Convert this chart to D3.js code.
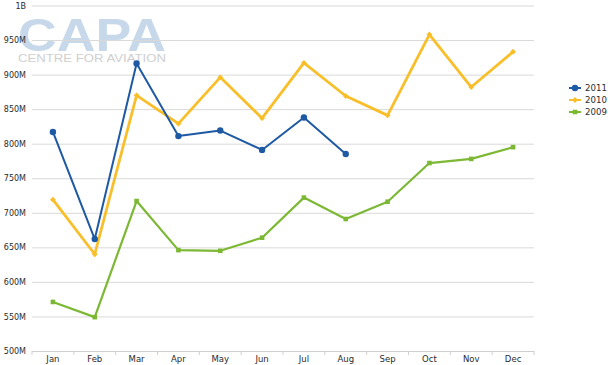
<!DOCTYPE html>
<html lang="en">
<head>
<meta charset="utf-8">
<title>Monthly revenue</title>
<script src="https://d3js.org/d3.v7.min.js"></script>
<style>
  body { margin: 0; background: #fff; }
  .axis text, .legend text { font-family: "DejaVu Sans", sans-serif; fill: #2b2b2b; }
</style>
</head>
<body>
<svg id="chart" width="610" height="365"></svg>
<script>
// data
var months = ["Jan","Feb","Mar","Apr","May","Jun","Jul","Aug","Sep","Oct","Nov","Dec"];
var values2011 = [817e6, 662e6, 916e6, 811e6, 819e6, 791e6, 838e6, 785e6];
var values2010 = [719e6, 640e6, 870e6, 829e6, 896e6, 837e6, 917e6, 869e6, 841e6, 958e6, 882e6, 933e6];
var values2009 = [571e6, 549e6, 717e6, 646e6, 645e6, 664e6, 722e6, 691e6, 716e6, 772e6, 778e6, 795e6];
var yTicks = [500e6, 550e6, 600e6, 650e6, 700e6, 750e6, 800e6, 850e6, 900e6, 950e6, 1e9];

var series = [
  {name: "2009", values: values2009, color: "#7cb834", width: 2.2, marker: "square"},
  {name: "2010", values: values2010, color: "#f8bf2b", width: 2.8, marker: "diamond"},
  {name: "2011", values: values2011, color: "#1e59a3", width: 2, marker: "circle"}
];

var svg = d3.select("#chart");

var x = d3.scaleBand().domain(months).range([32, 534]);
var y = d3.scaleLinear().domain([500e6, 1e9]).range([351, 5.5]);
var cx = function(i) { return x(months[i]) + x.bandwidth() / 2; };

// logo in background
var logo = svg.append("g");
logo.append("text")
  .attr("x", 18).attr("y", 51)
  .attr("textLength", 148).attr("lengthAdjust", "spacingAndGlyphs")
  .style("font-family", "'Liberation Sans', Arial, sans-serif")
  .style("font-weight", "bold").style("font-size", "47px")
  .style("fill", "#c6d8ea")
  .text("CAPA");
logo.append("text")
  .attr("x", 18).attr("y", 61.5)
  .attr("textLength", 148).attr("lengthAdjust", "spacingAndGlyphs")
  .style("font-family", "'Liberation Sans', Arial, sans-serif")
  .style("font-size", "11.5px")
  .style("fill", "#cfcfcf")
  .text("CENTRE FOR AVIATION");

// gridlines + y labels
var yAxis = svg.append("g")
  .attr("class", "axis")
  .attr("transform", "translate(32,0)")
  .call(d3.axisLeft(y).tickValues(yTicks).tickSize(-502).tickPadding(6)
    .tickFormat(function(d) { return d >= 1e9 ? "1B" : (d / 1e6) + "M"; }));
yAxis.select(".domain").remove();
yAxis.selectAll("line").attr("stroke", "#d9d9d9");
yAxis.selectAll("text").style("font-size", "8px");

// x axis
var xAxis = svg.append("g")
  .attr("class", "axis")
  .attr("transform", "translate(0,351)")
  .call(d3.axisBottom(x).tickSize(0).tickPadding(5));
xAxis.select(".domain").attr("stroke", "#cfcfcf");
xAxis.selectAll("text").style("font-size", "8.5px");
var bounds = months.map(function(m) { return x(m); }).concat([x.range()[1]]);
xAxis.selectAll("line.bound").data(bounds).enter().append("line")
  .attr("class", "bound")
  .attr("x1", function(d) { return d; }).attr("x2", function(d) { return d; })
  .attr("y1", 0).attr("y2", 4)
  .attr("stroke", "#cfcfcf");

function drawMarker(g, type, color) {
  if (type === "circle") {
    g.append("circle").attr("r", 3.2).attr("fill", color);
  } else if (type === "diamond") {
    g.append("path").attr("d", d3.symbol(d3.symbolDiamond2, 22)).attr("fill", color);
  } else {
    g.append("rect").attr("x", -2.3).attr("y", -2.3).attr("width", 4.6).attr("height", 4.6).attr("fill", color);
  }
}

var line = d3.line()
  .x(function(d, i) { return cx(i); })
  .y(function(d) { return y(d); });

series.forEach(function(s) {
  var g = svg.append("g");
  g.append("path")
    .attr("d", line(s.values))
    .attr("fill", "none")
    .attr("stroke", s.color)
    .attr("stroke-width", s.width)
    .attr("stroke-linejoin", "round");
  g.selectAll("g.pt").data(s.values).enter().append("g")
    .attr("class", "pt")
    .attr("transform", function(d, i) { return "translate(" + cx(i) + "," + y(d) + ")"; })
    .each(function() { drawMarker(d3.select(this), s.marker, s.color); });
});

// legend
var legendOrder = series.slice().reverse();
var legend = svg.append("g").attr("class", "legend").attr("transform", "translate(569,88)");
legendOrder.forEach(function(s, i) {
  var row = legend.append("g").attr("transform", "translate(0," + (i * 12) + ")");
  row.append("line").attr("x1", 0).attr("x2", 12).attr("stroke", s.color).attr("stroke-width", 2);
  drawMarker(row.append("g").attr("transform", "translate(6,0)"), s.marker, s.color);
  row.append("text").attr("x", 16).attr("dy", "0.35em").style("font-size", "8.6px").text(s.name);
});
</script>
</body>
</html>
